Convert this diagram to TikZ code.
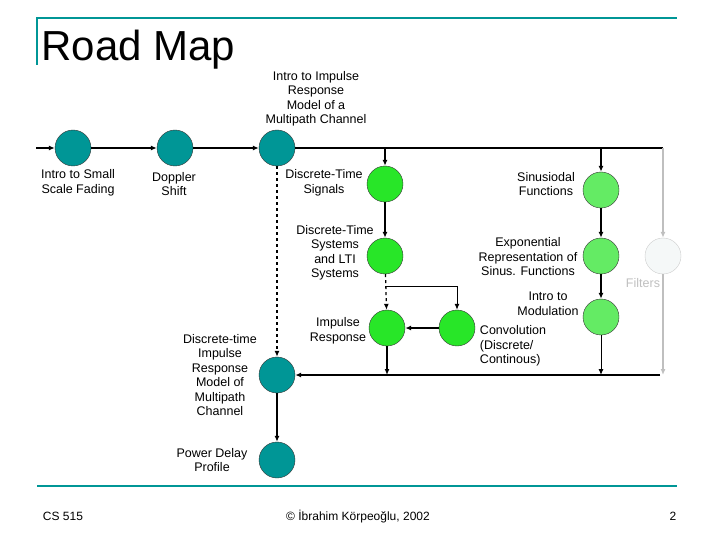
\documentclass[tikz,border=0pt]{standalone}
\usepackage{fontspec}
\setmainfont{Liberation Sans}
\usetikzlibrary{arrows.meta}
\definecolor{teal1}{RGB}{0,150,150}
\definecolor{green1}{RGB}{40,230,40}
\definecolor{green2}{RGB}{100,235,100}
\definecolor{ghost}{RGB}{245,248,248}
\tikzset{
  topic/.style={circle,draw=black!80,minimum size=36pt,inner sep=0pt},
  lbl/.style={align=center,font=\fontsize{12.5}{14.5}\selectfont},
  link/.style={-{Latex[length=6pt,width=5pt]},line width=1.3pt},
  grey/.style={-{Latex[length=6pt,width=5pt]},line width=1.3pt,black!25}
}
\begin{document}
\begin{tikzpicture}[x=1pt,y=-1pt]
\useasboundingbox (0,0) rectangle (720,540);

% header
\draw[teal1,line width=2.5pt] (37,65) -- (37,18) -- (677,18);
\node[anchor=west,font=\fontsize{42}{44}\selectfont] (title) at (38,50) {Road Map};
\draw[teal1,line width=2.5pt] (37,486) -- (677,486);

% topics
\node[topic,fill=teal1] (small) at (73,148) {};
\node[topic,fill=teal1] (doppler) at (175,148) {};
\node[topic,fill=teal1] (intro) at (277,148) {};
\node[topic,fill=teal1] (model) at (277,375) {};
\node[topic,fill=teal1] (pdp) at (277,460) {};
\node[topic,fill=green1] (dts) at (385,184) {};
\node[topic,fill=green1] (lti) at (385,256) {};
\node[topic,fill=green1] (impulse) at (387,328) {};
\node[topic,fill=green1] (conv) at (457,328) {};
\node[topic,fill=green2] (sinus) at (601,190) {};
\node[topic,fill=green2] (expo) at (601,256) {};
\node[topic,fill=green2] (modul) at (601,317) {};
\node[topic,fill=ghost,draw=black!20] (filters) at (663,256) {};

% labels
\node[lbl] (l-intro) at (316,99) {Intro to Impulse\\Response\\Model of a\\Multipath Channel};
\node[lbl] (l-small) at (78,183) {Intro to Small\\Scale Fading};
\node[lbl] (l-doppler) at (174,184) {Doppler\\Shift};
\node[lbl] (l-dts) at (324,183) {Discrete-Time\\Signals};
\node[lbl] (l-lti) at (335,253) {Discrete-Time\\Systems\\and LTI\\Systems};
\node[lbl] (l-impulse) at (338,331) {Impulse\\Response};
\node[lbl] (l-model) at (220,375) {Discrete-time\\Impulse\\Response\\Model of\\Multipath\\Channel};
\node[lbl] (l-pdp) at (212,460) {Power Delay\\Profile};
\node[lbl] (l-sinus) at (546,184) {Sinusiodal\\Functions};
\node[lbl] (l-expo) at (528,257) {Exponential\\Representation of\\Sinus. Functions};
\node[lbl] (l-modul) at (548,304) {Intro to\\Modulation};
\node[lbl,align=left] (l-conv) at (513,346) {Convolution\\(Discrete/\\Continous)};
\node[lbl,text=black!25] (l-filters) at (643,283) {Filters};

% connectors
\coordinate (start) at (36,148);
\coordinate (corner) at (663,148);
\coordinate (split) at (385,286);
\coordinate (bend) at (457,286);
\coordinate (busE) at (660,375);
\coordinate (busF) at (387,375);
\coordinate (busJ) at (601,375);
\coordinate (busK) at (663,375);
\draw[link] (start) -- (small);
\draw[link] (small) -- (doppler);
\draw[link] (doppler) -- (intro);
\draw[line width=1.3pt] (intro) -- (corner);
\draw[link] (dts |- corner) -- (dts);
\draw[link] (sinus |- corner) -- (sinus);
\draw[link] (dts) -- (lti);
\draw[link,dashed] (lti) -- (impulse);
\draw[link,line width=1pt] (split) -- (bend) -- (conv);
\draw[link] (conv) -- (impulse);
\draw[link] (impulse) -- (busF);
\draw[link] (sinus) -- (expo);
\draw[link] (expo) -- (modul);
\draw[link,line width=1pt] (modul) -- (busJ);
\draw[link] (busE) -- (model);
\draw[link,dashed] (intro) -- (model);
\draw[link] (model) -- (pdp);
\draw[grey] (corner) -- (filters);
\draw[grey] (filters) -- (busK);

% footer
\node[font=\fontsize{12}{14}\selectfont] (course) at (63,516) {CS 515};
\node[font=\fontsize{12}{14}\selectfont] (author) at (358,517) {© İbrahim Körpeoğlu, 2002};
\node[font=\fontsize{12}{14}\selectfont] (page) at (673,516) {2};
\end{tikzpicture}
\end{document}
